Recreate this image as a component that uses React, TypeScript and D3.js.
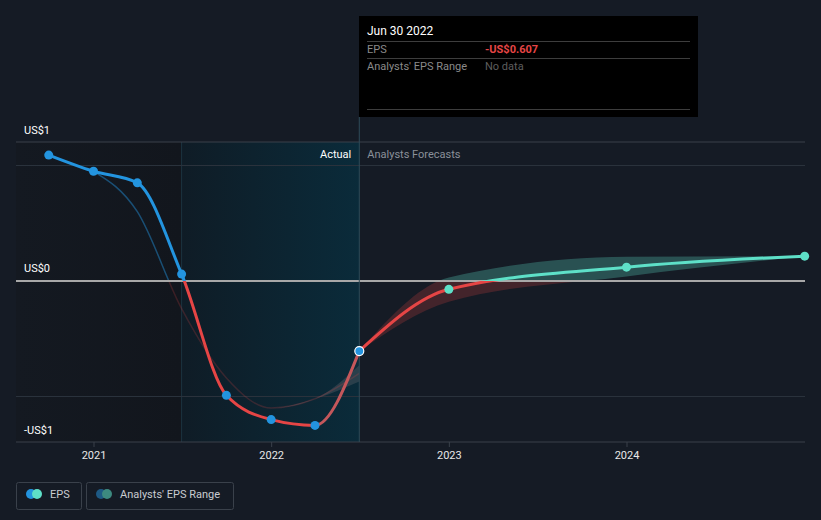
import React from "react";
import * as d3 from "d3";

const pastDates = ["2020-09-30", "2020-12-31", "2021-03-31", "2021-06-30", "2021-09-30", "2021-12-31", "2022-03-31", "2022-06-30"];
const pastEps = [1.09, 0.95, 0.85, 0.06, -0.99, -1.2, -1.25, -0.607];

const estDates = ["2020-12-31", "2021-03-31", "2021-06-30", "2021-09-30", "2021-12-31", "2022-03-31", "2022-06-30"];
const estEps = [0.95, 0.6, -0.24, -0.84, -1.1, -1.02, -0.8];
const estLow = [0.95, 0.6, -0.24, -0.84, -1.1, -1.02, -0.87];
const estHigh = [0.95, 0.6, -0.24, -0.84, -1.1, -1.02, -0.73];

const fcDates = ["2022-06-30", "2022-12-31", "2023-12-31", "2024-12-31"];
const fcEps = [-0.607, -0.072, 0.12, 0.215];
const fcLow = [-0.607, -0.18, 0.04, 0.215];
const fcHigh = [-0.607, 0.03, 0.21, 0.215];

const xTicks = ["2021", "2022", "2023", "2024"];
const yTickLabels = ["US$1", "US$0", "-US$1"];

const W = 821, H = 520;
const L = 16, R = 805, T = 142, B = 442;
const BG = "#151b25";
const BLUE = "#2394df";
const RED = "#e64545";
const TEAL = "#5ee0c8";

const pd = (s: string) => d3.timeParse("%Y-%m-%d")(s) as Date;

export default function App() {
  const x = d3.scaleTime().domain([pd("2021-01-01"), pd("2024-01-01")]).range([94, 627]);
  const y = d3.scaleLinear().domain([-1, 1]).range([396.5, 165.5]);
  const y0 = y(0);

  const past = pastDates.map((d, i) => ({ d: pd(d), v: pastEps[i] }));
  const est = estDates.map((d, i) => ({ d: pd(d), v: estEps[i], lo: estLow[i], hi: estHigh[i] }));
  const fc = fcDates.map((d, i) => ({ d: pd(d), v: fcEps[i], lo: fcLow[i], hi: fcHigh[i] }));

  const line = d3.line<any>().x((p) => x(p.d)).y((p) => y(p.v)).curve(d3.curveMonotoneX);
  const area = d3.area<any>().x((p) => x(p.d)).y0((p) => y(p.lo)).y1((p) => y(p.hi)).curve(d3.curveMonotoneX);

  const xNow = x(pd("2022-06-30"));
  const xYearAgo = x(pd("2021-06-30"));
  const xLastRep = x(pd("2022-03-31"));

  return (
    <div style={{ position: "fixed", left: 0, top: 0, width: W, height: H }}>
      <svg width={W} height={H} style={{ display: "block", fontFamily: "Roboto, 'Noto Sans', sans-serif" }}>
        <defs>
          <clipPath id="above"><rect x={0} y={0} width={W} height={y0} /></clipPath>
          <clipPath id="below"><rect x={0} y={y0} width={W} height={H - y0} /></clipPath>
          <clipPath id="belowA"><rect x={0} y={y0} width={xLastRep} height={H - y0} /></clipPath>
          <clipPath id="belowB"><rect x={xLastRep} y={y0} width={W - xLastRep} height={H - y0} /></clipPath>
          <linearGradient id="hl" x1="0" x2="1" y1="0" y2="0">
            <stop offset="0%" stopColor="#0f1c26" />
            <stop offset="100%" stopColor="#0a2b3a" />
          </linearGradient>
          <linearGradient id="dk" x1="0" x2="1" y1="0" y2="0">
            <stop offset="0%" stopColor="#141921" />
            <stop offset="100%" stopColor="#12161d" />
          </linearGradient>
        </defs>
        <rect x={0} y={0} width={W} height={H} fill={BG} />
        <rect x={L} y={T} width={xYearAgo - L} height={B - T} fill="url(#dk)" />
        <rect x={xYearAgo} y={T} width={xNow - xYearAgo} height={B - T} fill="url(#hl)" />
        <line x1={xYearAgo} x2={xYearAgo} y1={T} y2={B} stroke="#1c3440" strokeWidth={1} />
        <line x1={L} x2={R} y1={T} y2={T} stroke="#3a414b" strokeWidth={1} />
        <line x1={L} x2={R} y1={B} y2={B} stroke="#3a414b" strokeWidth={1} />
        {[1, -1].map((v) => (
          <line key={v} x1={L} x2={R} y1={y(v)} y2={y(v)} stroke="#2a323c" strokeWidth={1} />
        ))}
        <text x={24} y={134} fill="#fff" fontSize={11}>{yTickLabels[0]}</text>
        <text x={24} y={272} fill="#fff" fontSize={11}>{yTickLabels[1]}</text>
        <text x={24} y={434} fill="#fff" fontSize={11}>{yTickLabels[2]}</text>
        {xTicks.map((t) => {
          const xx = x(pd(t + "-01-01"));
          return (
            <g key={t}>
              <line x1={xx} x2={xx} y1={B} y2={B + 5} stroke="#3a414b" />
              <text x={xx} y={459} fill="#e8e8e8" fontSize={11} textAnchor="middle">{t}</text>
            </g>
          );
        })}
        <text x={xNow - 8} y={158} fill="#fff" fontSize={11} textAnchor="end">Actual</text>
        <text x={xNow + 8} y={158} fill="#8a9099" fontSize={11}>Analysts Forecasts</text>

        <path d={area(est) || ""} fill="#5a5e66" opacity={0.4} clipPath="url(#below)" />
        <path d={line(est) || ""} fill="none" stroke={BLUE} strokeWidth={1.5} opacity={0.45} clipPath="url(#above)" />
        <path d={line(est) || ""} fill="none" stroke={RED} strokeWidth={1.5} opacity={0.2} clipPath="url(#below)" />

        <path d={area(fc) || ""} fill={TEAL} opacity={0.28} clipPath="url(#above)" />
        <path d={area(fc) || ""} fill={RED} opacity={0.22} clipPath="url(#below)" />

        <line x1={L} x2={R} y1={y0} y2={y0} stroke="#a8a8a8" strokeWidth={2} />

        <path d={line(past) || ""} fill="none" stroke={BLUE} strokeWidth={3} clipPath="url(#above)" />
        <path d={line(past) || ""} fill="none" stroke={RED} strokeWidth={3} clipPath="url(#belowA)" />
        <path d={line(past) || ""} fill="none" stroke="#c4575b" strokeWidth={3} clipPath="url(#belowB)" />
        <path d={line(fc) || ""} fill="none" stroke={TEAL} strokeWidth={3} clipPath="url(#above)" />
        <path d={line(fc) || ""} fill="none" stroke={RED} strokeWidth={3} clipPath="url(#below)" />

        <line x1={xNow} x2={xNow} y1={117} y2={B} stroke="#2e4c58" strokeWidth={1} />

        {past.slice(0, -1).map((p, i) => (
          <circle key={i} cx={x(p.d)} cy={y(p.v)} r={4.5} fill={BLUE} />
        ))}
        {fc.slice(1).map((p, i) => (
          <circle key={i} cx={x(p.d)} cy={y(p.v)} r={4.5} fill={TEAL} />
        ))}
        <circle cx={x(past[past.length - 1].d)} cy={y(past[past.length - 1].v)} r={4.5} fill={BLUE} stroke="#fff" strokeWidth={1.2} />

        <rect x={359} y={16} width={339} height={101} fill="#000" />
        <text x={367} y={35} fill="#fff" fontSize={12}>Jun 30 2022</text>
        <line x1={367} x2={690} y1={41.5} y2={41.5} stroke="#3d3d3d" />
        <text x={367} y={53} fill="#8a8a8a" fontSize={11}>EPS</text>
        <text x={485} y={53} fill={RED} fontSize={11} fontWeight="bold">-US$0.607</text>
        <line x1={367} x2={690} y1={58.5} y2={58.5} stroke="#3d3d3d" />
        <text x={367} y={70} fill="#8a8a8a" fontSize={11}>Analysts' EPS Range</text>
        <text x={485} y={70} fill="#5e5e5e" fontSize={11}>No data</text>
        <line x1={367} x2={690} y1={109.5} y2={109.5} stroke="#3d3d3d" />

        <rect x={16.5} y={482.5} width={65} height={27} rx={2} fill="none" stroke="#3a414b" />
        <circle cx={31} cy={494} r={5} fill={BLUE} />
        <circle cx={37} cy={494} r={5} fill={TEAL} />
        <text x={50} y={498} fill="#c9ccd1" fontSize={11}>EPS</text>
        <rect x={86.5} y={482.5} width={147} height={27} rx={2} fill="none" stroke="#3a414b" />
        <circle cx={101} cy={494} r={5} fill="#1e5a85" />
        <circle cx={107} cy={494} r={5} fill="#3d8a80" />
        <text x={120} y={498} fill="#c9ccd1" fontSize={11}>Analysts' EPS Range</text>
      </svg>
    </div>
  );
}
